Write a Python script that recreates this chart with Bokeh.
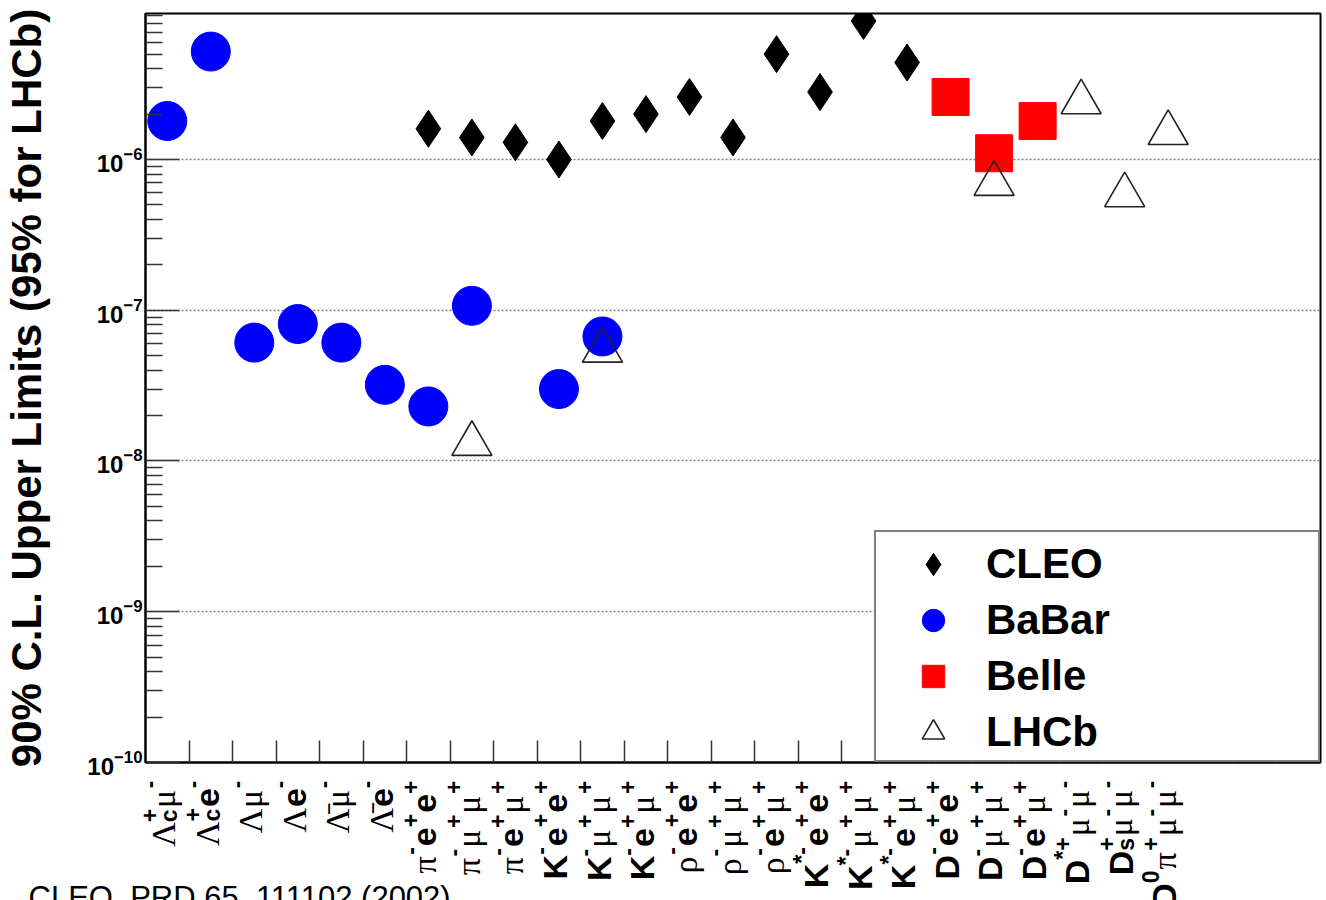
import unicodedata

from bokeh.plotting import figure
from bokeh.layouts import column
from bokeh.models import (FixedTicker, Label, Legend, LegendItem, Range1d,
                          CustomLabelingPolicy)
from bokeh.core.properties import value
from bokeh.embed import file_html
from bokeh.resources import INLINE

# ---------------------------------------------------------------------------
# Decay channels along the x axis, written TLatex-style (_{sub} / ^{sup})
# ---------------------------------------------------------------------------
LBAR = "\u039b\u0304"   # anti-Lambda
channels = [
    "Λ_{c}^{+}μ^{-}", "Λ_{c}^{+}e^{-}", "Λμ^{-}", "Λe^{-}",
    LBAR + "μ^{-}", LBAR + "e^{-}",
    "π^{-}e^{+}e^{+}", "π^{-}μ^{+}μ^{+}", "π^{-}e^{+}μ^{+}",
    "K^{-}e^{+}e^{+}", "K^{-}μ^{+}μ^{+}", "K^{-}e^{+}μ^{+}",
    "ρ^{-}e^{+}e^{+}", "ρ^{-}μ^{+}μ^{+}", "ρ^{-}e^{+}μ^{+}",
    "K^{*-}e^{+}e^{+}", "K^{*-}μ^{+}μ^{+}", "K^{*-}e^{+}μ^{+}",
    "D^{-}e^{+}e^{+}", "D^{-}μ^{+}μ^{+}", "D^{-}e^{+}μ^{+}",
    "D^{*+}μ^{-}μ^{-}", "D_{s}^{+}μ^{-}μ^{-}", "D^{0}π^{+}μ^{-}μ^{-}",
]
N_BINS = 27  # three empty bins on the right leave room for the legend

# Upper limits per experiment
cleo_channels = [
    "π^{-}e^{+}e^{+}", "π^{-}μ^{+}μ^{+}", "π^{-}e^{+}μ^{+}",
    "K^{-}e^{+}e^{+}", "K^{-}μ^{+}μ^{+}", "K^{-}e^{+}μ^{+}",
    "ρ^{-}e^{+}e^{+}", "ρ^{-}μ^{+}μ^{+}", "ρ^{-}e^{+}μ^{+}",
    "K^{*-}e^{+}e^{+}", "K^{*-}μ^{+}μ^{+}", "K^{*-}e^{+}μ^{+}",
]
cleo_limits = [1.6e-6, 1.4e-6, 1.3e-6, 1.0e-6, 1.8e-6, 2.0e-6,
               2.6e-6, 1.4e-6, 5.0e-6, 2.8e-6, 8.3e-6, 4.4e-6]

babar_channels = [
    "Λ_{c}^{+}μ^{-}", "Λ_{c}^{+}e^{-}", "Λμ^{-}", "Λe^{-}",
    LBAR + "μ^{-}", LBAR + "e^{-}",
    "π^{-}e^{+}e^{+}", "π^{-}μ^{+}μ^{+}", "K^{-}e^{+}e^{+}", "K^{-}μ^{+}μ^{+}",
]
babar_limits = [1.8e-6, 5.2e-6, 6.1e-8, 8.1e-8, 6.1e-8, 3.2e-8,
                2.3e-8, 1.07e-7, 3.0e-8, 6.7e-8]

belle_channels = ["D^{-}e^{+}e^{+}", "D^{-}μ^{+}μ^{+}", "D^{-}e^{+}μ^{+}"]
belle_limits = [2.6e-6, 1.1e-6, 1.8e-6]

lhcb_channels = ["π^{-}μ^{+}μ^{+}", "K^{-}μ^{+}μ^{+}", "D^{-}μ^{+}μ^{+}",
                 "D^{*+}μ^{-}μ^{-}", "D_{s}^{+}μ^{-}μ^{-}", "D^{0}π^{+}μ^{-}μ^{-}"]
lhcb_limits = [1.3e-8, 5.4e-8, 6.9e-7, 2.4e-6, 5.8e-7, 1.5e-6]

y_decades = [1e-10, 1e-9, 1e-8, 1e-7, 1e-6]
Y_MIN, Y_MAX = 1e-10, 9.3e-6

y_title = "90% C.L. Upper Limits (95% for LHCb)"
footnote = "CLEO, PRD 65, 111102 (2002)"

# page geometry (px)
PAGE_W, PAGE_H = 1326, 900
LEFT, RIGHT, TOP, BOTTOM = 144, 7, 13, 19
FRAME_W, FRAME_H = PAGE_W - LEFT - RIGHT, 749
MAIN_H = TOP + FRAME_H + BOTTOM
STRIP_H = PAGE_H - MAIN_H


def centres(names):
    return [channels.index(n) + 0.5 for n in names]


def no_frame_alignment(fig):
    try:
        fig.frame_align = False
    except AttributeError:
        pass


# ---------------------------------------------------------------------------
# Main panel
# ---------------------------------------------------------------------------
p = figure(frame_width=FRAME_W, frame_height=FRAME_H, title=None,
           x_range=Range1d(0, N_BINS), y_range=Range1d(Y_MIN, Y_MAX),
           y_axis_type="log", output_backend="svg", toolbar_location=None,
           min_border_left=LEFT, min_border_right=RIGHT,
           min_border_top=TOP, min_border_bottom=BOTTOM)
no_frame_alignment(p)
p.background_fill_color = "white"
p.border_fill_color = "white"
p.outline_line_color = "black"
p.outline_line_width = 2

minor = [k * d for d in y_decades for k in range(2, 10) if k * d < Y_MAX]
y_ticker = FixedTicker(ticks=y_decades, minor_ticks=minor)
p.yaxis.ticker = y_ticker
p.ygrid.ticker = y_ticker
p.ygrid.grid_line_color = "#808080"
p.ygrid.grid_line_dash = "2 2"
p.ygrid.grid_line_width = 1.5
p.xgrid.visible = False

ya = p.yaxis[0]
ya.axis_line_color = "black"
ya.axis_line_width = 2
ya.major_tick_in = 34
ya.major_tick_out = 0
ya.minor_tick_in = 17
ya.minor_tick_out = 0
ya.major_tick_line_color = "#333333"
ya.minor_tick_line_color = "#333333"
ya.major_tick_line_width = 1.5
ya.minor_tick_line_width = 1.5
ya.major_label_text_font = "Liberation Sans"
ya.major_label_text_font_style = "bold"
ya.major_label_text_font_size = "24px"
ya.major_label_text_color = "black"
ya.major_label_standoff = 3
ya.axis_label = y_title
ya.axis_label_text_font = "Liberation Sans"
ya.axis_label_text_font_style = "bold"
ya.axis_label_text_font_size = "42px"
ya.axis_label_text_color = "black"
ya.axis_label_standoff = 34

xa = p.xaxis[0]
xa.ticker = FixedTicker(ticks=list(range(1, N_BINS)))
xa.axis_line_color = "black"
xa.axis_line_width = 2
xa.major_tick_in = 22
xa.major_tick_out = 0
xa.major_tick_line_color = "#333333"
xa.major_tick_line_width = 1.5
xa.minor_tick_line_color = None
xa.major_label_standoff = 0
xa.major_label_text_font_size = "0px"
# the channel names are typeset separately below, so no plain tick labels
xa.major_label_policy = CustomLabelingPolicy(
    code="for (const i of indices) indices.unset(i)\nreturn indices")

r_cleo = p.scatter(centres(cleo_channels), cleo_limits, marker="diamond",
                   size=37, fill_color="black", line_color="black")
r_babar = p.scatter(centres(babar_channels), babar_limits, marker="circle",
                    size=39, fill_color="#0000ff", line_color="#0000ff")
r_belle = p.scatter(centres(belle_channels), belle_limits, marker="square",
                    size=37, fill_color="#ff0000", line_color="#ff0000")
r_lhcb = p.scatter(centres(lhcb_channels), lhcb_limits, marker="triangle",
                   size=40, fill_color=None, line_color="#222222",
                   line_width=1.6)

legend = Legend(
    items=[LegendItem(label="CLEO", renderers=[r_cleo]),
           LegendItem(label="BaBar", renderers=[r_babar]),
           LegendItem(label="Belle", renderers=[r_belle]),
           LegendItem(label="LHCb", renderers=[r_lhcb])],
    location="bottom_right", margin=0, spacing=0,
    glyph_height=56, glyph_width=56,
    padding=dict(left=29, right=0, top=4, bottom=0),
    label_standoff=25, label_width=332,
    label_text_font="Liberation Sans", label_text_font_style="bold",
    label_text_font_size="42px", label_text_color="black",
    border_line_color="black", border_line_width=2,
    background_fill_color="white", background_fill_alpha=1.0)
p.add_layout(legend)

# ---------------------------------------------------------------------------
# Strip under the axis holding the rotated channel names and the footnote.
# Its x range is the main x range extended over the side borders so the
# bin centres line up with the ticks above.
# ---------------------------------------------------------------------------
ppu = FRAME_W / N_BINS
s = figure(width=PAGE_W, height=STRIP_H, output_backend="svg",
           toolbar_location=None, title=None,
           x_range=Range1d(-LEFT / ppu, N_BINS + RIGHT / ppu),
           y_range=Range1d(STRIP_H, 0),      # pixel rows, counted downwards
           x_axis_location=None, y_axis_location=None,
           min_border=0, min_border_left=0, min_border_right=0,
           min_border_top=0, min_border_bottom=0)
no_frame_alignment(s)
s.outline_line_color = None
s.xgrid.visible = False
s.ygrid.visible = False
s.background_fill_color = "white"
s.border_fill_color = "white"

S_BASE = 34          # base glyph size (px)
S_SCRIPT = 23        # sub/superscript size (px)
TOP_GAP = 18         # gap between axis and the end of each label
BASE_SHIFT = 0.36 * S_BASE - 15
SUP_RISE = 0.42 * S_BASE
SUB_DROP = 0.16 * S_BASE
GAP = 1.0

EM = {"K": .722, "D": .722, "e": .556, "Λ": .72, "μ": .58, "π": .55,
      "ρ": .55, "+": .584, "-": .333, "*": .389, "0": .556, "c": .5,
      "s": .556}
GREEK = set("Λμπρ")

STYLES = {
    "latin": ("Liberation Sans", "bold", S_BASE),
    "greek": ("Liberation Serif", "normal", S_BASE),
    "script": ("Liberation Sans", "bold", S_SCRIPT),
}


def parse(label):
    groups, i = [], 0
    while i < len(label):
        base = label[i]
        i += 1
        while i < len(label) and unicodedata.combining(label[i]):
            base += label[i]
            i += 1
        sub = sup = ""
        while i < len(label) and label[i] in "_^":
            j = label.index("}", i)
            if label[i] == "_":
                sub = label[i + 2:j]
            else:
                sup = label[i + 2:j]
            i = j + 1
        groups.append((base, sub, sup))
    return groups


def text_width(txt, size):
    return sum(EM.get(ch, 0.0) for ch in txt) * size


pieces = {k: {"x": [], "y": [], "text": [], "dx": []} for k in STYLES}


def add_piece(style, xc, txt, u0, total, dx):
    d = pieces[style]
    d["x"].append(xc)
    d["y"].append(TOP_GAP - BOTTOM + total - u0)
    d["text"].append(txt)
    d["dx"].append(dx)


for k, lab in enumerate(channels):
    groups = parse(lab)
    adv = []
    for base, sub, sup in groups:
        w = text_width(base, S_BASE)
        ws = max(text_width(sub, S_SCRIPT), text_width(sup, S_SCRIPT))
        adv.append((w, ws))
    total = sum(w + ws + GAP for w, ws in adv) - GAP
    u = 0.0
    xc = k + 0.5
    for (base, sub, sup), (w, ws) in zip(groups, adv):
        add_piece("greek" if base[0] in GREEK else "latin",
                  xc, base, u, total, BASE_SHIFT)
        if sub:
            add_piece("script", xc, sub, u + w, total, BASE_SHIFT + SUB_DROP)
        if sup:
            add_piece("script", xc, sup, u + w, total, BASE_SHIFT - SUP_RISE)
        u += w + ws + GAP

for key, (font, style, size) in STYLES.items():
    d = pieces[key]
    s.text(x=d["x"], y=d["y"], text=d["text"], x_offset=d["dx"],
           angle=1.5707963267948966, text_align="left",
           text_baseline="alphabetic", text_font=value(font),
           text_font_style=style, text_font_size=f"{size}px",
           text_color="black")

s.add_layout(Label(x=28, y=21, x_units="screen", y_units="screen",
                   text=footnote, text_font="Liberation Sans",
                   text_font_size="31px", text_baseline="top",
                   text_color="black"))

page = column(p, s, spacing=0)
open("out.html", "w").write(file_html(page, INLINE))
